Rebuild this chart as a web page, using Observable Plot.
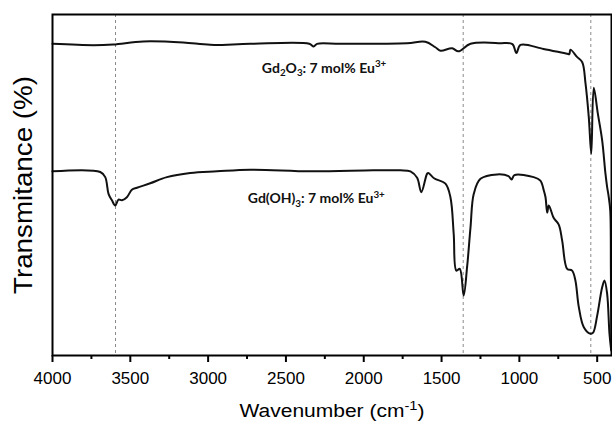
<!DOCTYPE html>
<html><head><meta charset="utf-8">
<script src="https://cdn.jsdelivr.net/npm/d3@7"></script>
<script src="https://cdn.jsdelivr.net/npm/@observablehq/plot@0.6"></script>
<style>body{margin:0;background:#fff;}</style>
</head><body><div id="chart"></div>
<script>
// Gd2O3 : 7 mol% Eu3+  (upper spectrum)
const topWavenumber = [4000, 3736, 3610, 3417, 3160, 2986, 2729, 2350, 2322, 2300, 2150, 1722, 1604, 1540, 1507, 1432, 1392, 1314, 1122, 1045, 1019, 993, 845, 693, 679, 672, 628, 596, 575, 554, 538, 522, 496, 468, 447, 436, 427, 416, 412, 409];
const topTransmittance = [91.4, 91.0, 91.2, 92.1, 91.8, 91.1, 91.4, 91.4, 90.6, 91.4, 91.4, 91.6, 92.0, 90.4, 89.4, 90.1, 89.2, 91.4, 91.6, 91.3, 88.7, 91.1, 89.9, 88.5, 88.4, 89.7, 87.5, 86.0, 79.8, 69.9, 59.2, 78.5, 71.0, 63.1, 53.4, 49.4, 46.9, 42.5, 25, 3];
// Gd(OH)3 : 7 mol% Eu3+  (lower spectrum)
const botWavenumber = [4000, 3693, 3661, 3640, 3618, 3597, 3576, 3554, 3522, 3490, 3457, 3372, 3265, 3115, 2943, 2729, 2340, 1938, 1765, 1700, 1657, 1630, 1593, 1585, 1546, 1475, 1443, 1422, 1405, 1383, 1358, 1336, 1314, 1293, 1250, 1143, 1070, 1050, 1032, 908, 865, 843, 832, 821, 811, 779, 747, 725, 693, 661, 640, 618, 586, 543, 526, 500, 468, 453, 436, 421, 410];
const botTransmittance = [54.0, 53.8, 52.3, 47.4, 45.5, 44.0, 45.7, 45.5, 46.4, 48.6, 49.2, 50.5, 52.3, 53.5, 54.0, 54.5, 54.0, 54.3, 54.3, 54.0, 52.1, 47.9, 53.3, 53.5, 51.9, 50.4, 46.4, 35.7, 24.9, 25.4, 17.6, 25.9, 37.6, 47.4, 51.8, 53.1, 52.6, 51.6, 52.9, 52.3, 51.3, 48.4, 46.4, 41.9, 44.0, 40.3, 38.4, 33.7, 25.4, 24.9, 22.0, 14.2, 8.3, 6.4, 6.7, 11.7, 20.0, 22.0, 18.1, 6.4, 1.5];
const markerWavenumbers = [3595, 1361, 541];
const majorTicks = [4000, 3500, 3000, 2500, 2000, 1500, 1000, 500];
const minorTicks = [3750, 3250, 2750, 2250, 1750, 1250, 750];
const seriesLabels = ["Gd_{2}O_{3}: 7 mol% Eu^{3+}", "Gd(OH)_{3}: 7 mol% Eu^{3+}"];
const labelWavenumber = [2255, 2305];
const labelTransmittance = [84.3, 45.9];
const xLabel = "Wavenumber (cm^{-1})";
const yLabel = "Transmitance (%)";

const topData = topWavenumber.map((w, i) => ({w, t: topTransmittance[i]}));
const botData = botWavenumber.map((w, i) => ({w, t: botTransmittance[i]}));
const labelData = seriesLabels.map((s, i) => ({s, w: labelWavenumber[i], t: labelTransmittance[i]}));

const plot = Plot.plot({
  width: 612, height: 425,
  marginLeft: 52, marginRight: 1, marginTop: 14, marginBottom: 70,
  style: {fontFamily: "'Liberation Sans', Arial, sans-serif", background: "#fff", color: "#000"},
  x: {domain: [4000, 408], range: [52, 611]},
  y: {domain: [0, 100], axis: null},
  marks: [
    Plot.ruleX(markerWavenumbers, {stroke: "#8a8a8a", strokeWidth: 1, strokeDasharray: "3,3"}),
    Plot.line(topData, {x: "w", y: "t", stroke: "#111", strokeWidth: 2, curve: "catmull-rom"}),
    Plot.line(botData, {x: "w", y: "t", stroke: "#111", strokeWidth: 2, curve: "catmull-rom"}),
    Plot.text(labelData, {x: "w", y: "t", text: "s", fontFamily: "Lato, 'Open Sans', sans-serif", fontWeight: "bold", fontSize: 14, fill: "#111"}),
    Plot.frame({stroke: "#000", strokeWidth: 2}),
    Plot.axisX({ticks: majorTicks, tickSize: 7, tickPadding: 9, fontSize: 17, label: null, strokeWidth: 2, tickFormat: d => String(d)}),
    Plot.axisX({ticks: minorTicks, tickSize: 4, label: null, strokeWidth: 2, tickFormat: () => ""}),
    Plot.text([xLabel], {frameAnchor: "bottom", dy: 61, fontSize: 18}),
    Plot.text([yLabel], {frameAnchor: "left", textAnchor: "middle", lineAnchor: "middle", rotate: -90, dx: -29, fontSize: 25})
  ]
});
document.getElementById("chart").appendChild(plot);

function applyMarkup(el, markup, base) {
  const parts = markup.split(/(_\{[^}]*\}|\^\{[^}]*\})/).filter(p => p.length);
  el.textContent = "";
  let shift = 0;
  for (const p of parts) {
    const ts = document.createElementNS("http://www.w3.org/2000/svg", "tspan");
    let target = 0, size = base, txt = p;
    if (p.startsWith("_{")) { target = 0.28 * base; size = 0.7 * base; txt = p.slice(2, -1); }
    else if (p.startsWith("^{")) { target = -0.38 * base; size = 0.7 * base; txt = p.slice(2, -1); }
    const dy = target - shift;
    if (dy) ts.setAttribute("dy", dy);
    shift = target;
    ts.setAttribute("font-size", size);
    ts.textContent = txt;
    el.appendChild(ts);
  }
  return el;
}
const svg = d3.select(plot);
svg.selectAll("text").each(function() {
  const t = this.textContent;
  if (seriesLabels.includes(t)) applyMarkup(this, t, 14);
  if (t === xLabel) {
    applyMarkup(this, t, 18);
    this.setAttribute("textLength", 185);
    this.setAttribute("lengthAdjust", "spacingAndGlyphs");
  }
  if (t === yLabel) {
    this.setAttribute("textLength", 218);
    this.setAttribute("lengthAdjust", "spacingAndGlyphs");
  }
});
</script>
</body></html>
